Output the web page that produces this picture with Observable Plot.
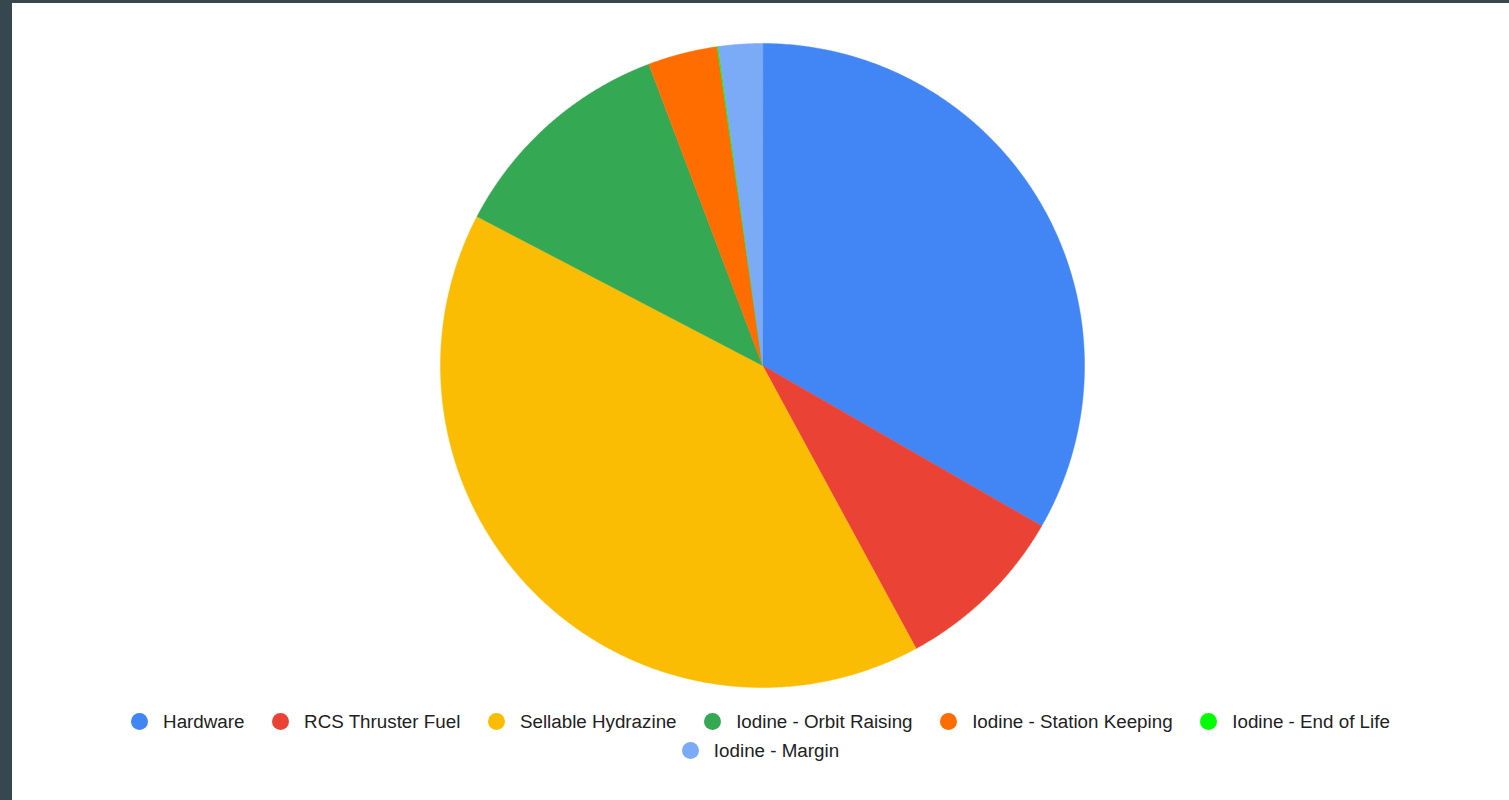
<!DOCTYPE html>
<html>
<head>
<meta charset="utf-8">
<script src="https://cdn.jsdelivr.net/npm/d3@7"></script>
<script src="https://cdn.jsdelivr.net/npm/@observablehq/plot@0.6"></script>
<style>
  html, body { margin: 0; padding: 0; background: #37474f; width: 1509px; height: 800px; overflow: hidden; }
  #panel { position: absolute; left: 12px; top: 3px; width: 1497px; height: 797px; background: #ffffff; }
  #legend {
    width: 1320px; margin: 0 auto; padding-top: 4px;
    display: flex; flex-wrap: wrap; justify-content: center;
    font-family: "Liberation Sans", Arial, sans-serif; font-size: 18.8px; color: #222222;
  }
  .item { display: flex; align-items: center; height: 29px; margin: 0 13.8px; white-space: nowrap; }
  .sw { width: 17px; height: 17px; border-radius: 50%; margin-right: 15px; flex: none; }
  svg { display: block; }
</style>
</head>
<body>
<div id="panel"><div id="chart"></div><div id="legend"></div></div>
<script>
const categories = ["Hardware", "RCS Thruster Fuel", "Sellable Hydrazine", "Iodine - Orbit Raising", "Iodine - Station Keeping", "Iodine - End of Life", "Iodine - Margin"];
const values = [33.3, 8.78, 40.56, 11.6, 3.49, 0.06, 2.19];
const colors = ["#4285f4", "#ea4335", "#fbbc04", "#34a853", "#ff6d01", "#00ff00", "#7baaf7"];

const W = 1497, H = 700, R = 322, CX = 750, CY = 362;

const arcs = d3.pie().sort(null).value(d => d.value)(categories.map((name, i) => ({name, value: values[i]})));
const pts = [];
for (const a of arcs) {
  const n = Math.max(2, Math.ceil((a.endAngle - a.startAngle) / (Math.PI / 720)));
  pts.push({name: a.data.name, x: 0, y: 0});
  for (let k = 0; k <= n; k++) {
    const t = a.startAngle + (a.endAngle - a.startAngle) * k / n;
    pts.push({name: a.data.name, x: Math.sin(t), y: Math.cos(t)});
  }
}

const chart = Plot.plot({
  width: W, height: H,
  margin: 0,
  x: {domain: [-CX / R, (W - CX) / R], axis: null},
  y: {domain: [-(H - CY) / R, CY / R], axis: null},
  color: {domain: categories, range: colors},
  marks: [
    Plot.line(pts, {x: "x", y: "y", z: "name", fill: "name", stroke: "name", strokeWidth: 0.5, curve: "linear-closed"})
  ]
});
document.getElementById("chart").appendChild(chart);

const legend = document.getElementById("legend");
categories.forEach((c, i) => {
  const it = document.createElement("div");
  it.className = "item";
  const sw = document.createElement("span");
  sw.className = "sw";
  sw.style.background = colors[i];
  const tx = document.createElement("span");
  tx.textContent = c;
  it.appendChild(sw); it.appendChild(tx);
  legend.appendChild(it);
});
</script>
</body>
</html>
